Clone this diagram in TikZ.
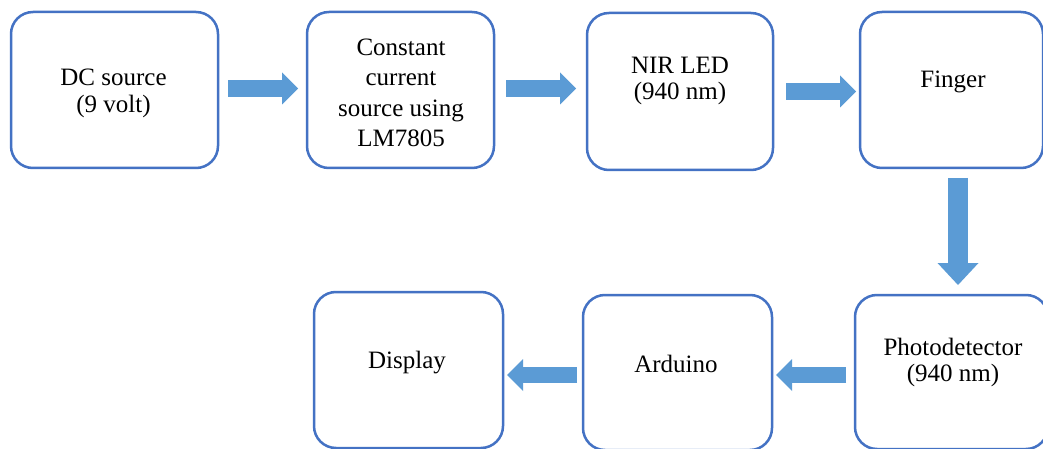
\documentclass[tikz,border=0pt]{standalone}
\usepackage{fontspec}
\setmainfont{Liberation Serif}
\usetikzlibrary{arrows.meta}
\definecolor{boxblue}{HTML}{4472C4}
\definecolor{arrowblue}{HTML}{5B9BD5}
\begin{document}
\begin{tikzpicture}[x=1pt,y=-1pt,
  blockbox/.style={draw=boxblue, line width=2.5pt, rounded corners=22pt, fill=white, inner sep=0pt, outer sep=0pt},
  lbl/.style={font=\fontsize{25}{26.5}\selectfont, align=center, inner sep=0pt},
  lblwide/.style={lbl, font=\fontsize{25}{30.5}\selectfont},
  flowarrow/.style={draw=arrowblue, line width=16.5pt, -{Triangle[width=32pt,length=16pt,line width=0pt]}},
  downarrow/.style={draw=arrowblue, line width=20pt, -{Triangle[width=41pt,length=22pt,line width=0pt]}}]
\useasboundingbox (0,0) rectangle (1043,449);
\clip (0,0) rectangle (1043,449);
\fill[white] (0,0) rectangle (1043,449);

\node[blockbox, minimum width=207pt, minimum height=156pt] (b1) at (114.5,90) {};
\node[blockbox, minimum width=187pt, minimum height=156pt] (b2) at (400.5,90) {};
\node[blockbox, minimum width=186pt, minimum height=157pt] (b3) at (680,91.5) {};
\node[blockbox, minimum width=183pt, minimum height=156pt] (b4) at (951.5,90) {};
\node[blockbox, minimum width=193pt, minimum height=154pt] (b5) at (951.5,372) {};
\node[blockbox, minimum width=189pt, minimum height=155pt] (b6) at (677.5,372.5) {};
\node[blockbox, minimum width=189pt, minimum height=156pt] (b7) at (408.5,370) {};

\node[lbl] (t1) at (113.5,93.95) {\strut DC source\\\strut (9 volt)};
\node[lblwide] (t2) at (401,94.75) {\strut Constant\\\strut current\\\strut source using\\\strut LM7805};
\node[lbl] (t3) at (680,81.2) {\strut NIR LED\\\strut (940 nm)};
\node[lbl] (t4) at (953,82.3) {\strut Finger};
\node[lbl] (t5) at (953,363) {\strut Photodetector\\\strut (940 nm)};
\node[lbl] (t6) at (676,366.7) {\strut Arduino};
\node[lbl] (t7) at (407,362.7) {\strut Display};

\coordinate (r1) at (0,88.5);
\coordinate (r2) at (0,91.5);
\coordinate (r3) at (0,375);
\coordinate (vx) at (958,0);

\draw[flowarrow, shorten <=10pt, shorten >=9pt] (b1.east |- r1) -- (b2.west |- r1);
\draw[flowarrow, shorten <=12pt, shorten >=11pt] (b2.east |- r1) -- (b3.west |- r1);
\draw[flowarrow, shorten <=13pt, shorten >=4pt] (b3.east |- r2) -- (b4.west |- r2);
\draw[downarrow, shorten <=10pt, shorten >=10pt] (b4.south -| vx) -- (b5.north -| vx);
\draw[flowarrow, shorten <=9pt, shorten >=4pt] (b5.west |- r3) -- (b6.east |- r3);
\draw[flowarrow, shorten <=6pt, shorten >=4pt] (b6.west |- r3) -- (b7.east |- r3);
\end{tikzpicture}
\end{document}
